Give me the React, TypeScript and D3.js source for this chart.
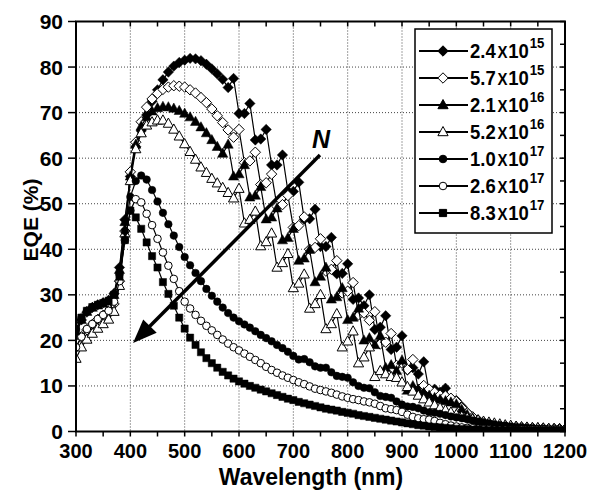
import { useEffect, useRef } from 'react'
import * as d3 from 'd3'

// wavelength grid (nm)
const WAVELENGTH = [
  300, 310, 320, 330, 340, 350, 360, 370, 380, 390,
  400, 410, 420, 430, 440, 450, 460, 470, 480, 490,
  500, 510, 520, 530, 540, 550, 560, 570, 580, 590,
  600, 610, 620, 630, 640, 650, 660, 670, 680, 690,
  700, 710, 720, 730, 740, 750, 760, 770, 780, 790,
  800, 810, 820, 830, 840, 850, 860, 870, 880, 890,
  900, 910, 920, 930, 940, 950, 960, 970, 980, 990,
  1000, 1010, 1020, 1030, 1040, 1050, 1060, 1070, 1080, 1090,
  1100, 1110, 1120, 1130, 1140, 1150, 1160, 1170, 1180, 1190,
  1200,
]

// EQE (%) per doping level
const EQE_2_4E15 = [
  21, 24.5, 26.2, 27.2, 27.8, 28.3, 28.8, 30.3, 36, 46.5,
  56, 62.5, 66, 69.5, 72.5, 75, 77.2, 78.9, 80.2, 81,
  81.5, 81.9, 81.8, 81.4, 80.6, 79.6, 78.5, 77.3, 75.5, 77.5,
  69.8, 69.8, 72, 64, 64.2, 66.3, 58.5, 58.5, 60.7, 52.8,
  52.7, 54.7, 46.6, 46.7, 48.8, 40.6, 40.6, 42.6, 34.6, 34.7,
  36.8, 29, 29.3, 27.6, 30, 22.4, 22.9, 25.4, 18, 18.5,
  21, 13.5, 14, 12.6, 15.3, 8.8, 9.3, 8.6, 9.5, 6.8,
  6.8, 5.5, 4.2, 3.2, 2.5, 2, 1.7, 1.5, 1.3, 1.2,
  1.1, 1.0, 0.9, 0.8, 0.8, 0.7, 0.7, 0.6, 0.6, 0.6,
  0.5,
]
const EQE_5_7E15 = [
  18.5, 20.8, 22.3, 23.5, 24.6, 25.5, 26.3, 28, 33, 44,
  57, 63.5, 68, 71.2, 73, 74.2, 75.1, 75.6, 75.9, 75.8,
  75.6, 75, 74.3, 73.3, 72.2, 70.8, 69.3, 67.8, 66.2, 64.6,
  66.3, 59, 59.4, 61.3, 54.2, 54.6, 56.5, 49.4, 49.8, 51.8,
  44.8, 45.2, 47.1, 40, 40.4, 42.3, 35.2, 35.6, 37.5, 30.4,
  30.8, 32.7, 25.6, 26, 24.4, 26.3, 19.2, 19.6, 21.5, 14.5,
  15, 13.6, 15.8, 9.1, 10.1, 9.3, 8.6, 8, 7.8, 7.3,
  6.6, 5.2, 4.1, 3.2, 2.5, 2, 1.7, 1.5, 1.3, 1.2,
  1.1, 1.0, 0.9, 0.8, 0.8, 0.7, 0.7, 0.6, 0.6, 0.6,
  0.5,
]
const EQE_2_1E16 = [
  21.5, 24.5, 26.3, 27.2, 27.7, 28.1, 28.6, 30, 35.5, 46,
  56, 63, 67, 69, 70.3, 71, 71.3, 71.2, 70.9, 70.4,
  69.8, 69, 68, 66.8, 65.5, 64, 62.5, 61, 63, 56,
  56.5, 58.5, 51.4, 51.8, 53.7, 46.6, 47, 49, 42, 42.5,
  44.5, 37.5, 38, 39.9, 32.8, 34, 36, 29, 29.5, 31.5,
  24.5, 25, 27, 20, 20.5, 19, 21, 14, 14.6, 13.3,
  15.6, 9, 10, 9.2, 8.5, 7.9, 7.4, 7, 6.7, 6.4,
  6, 4.8, 3.7, 2.9, 2.3, 1.9, 1.6, 1.4, 1.2, 1.1,
  1.0, 0.9, 0.8, 0.8, 0.7, 0.7, 0.6, 0.6, 0.5, 0.5,
  0.5,
]
const EQE_5_2E16 = [
  16, 18.5, 20.2, 21.5, 22.6, 23.6, 24.6, 26.3, 32, 43.5,
  55, 62, 65.5, 67.2, 67.9, 68.3, 68.3, 67.6, 66.3, 64.8,
  63.1, 61.4, 59.7, 58, 56.8, 55.5, 54.5, 53.5, 52.4, 51.2,
  53.3, 45.7, 46.5, 48.3, 40.7, 41.6, 43.5, 36, 37, 39,
  31.5, 32.5, 34.5, 27, 28, 30, 22.5, 23.6, 25.8, 18.5,
  19.8, 22, 15, 16.3, 18.5, 12, 13.3, 12.6, 12, 11.8,
  10.8, 9.8, 8.8, 7.9, 7.1, 6.4, 5.8, 5.2, 4.7, 4.2,
  3.7, 3.3, 3, 2.7, 2.5, 2.2, 2, 1.8, 1.6, 1.4,
  1.3, 1.1, 1.0, 0.9, 0.8, 0.8, 0.7, 0.6, 0.6, 0.5,
  0.5,
]
const EQE_1_0E17 = [
  22.5, 25, 26.5, 27.3, 27.8, 28.2, 28.7, 30, 34.5, 44,
  51.5, 55, 56.2, 55.3, 53, 50.5, 48, 45.5, 43, 40.5,
  38.3, 36.5, 34.8, 33, 31.3, 29.8, 28.5, 27.2, 26, 25,
  24.2, 23.5, 22.8, 22, 21.2, 20.5, 19.8, 19, 18.3, 17.5,
  16.6, 15.8, 15.9, 15.2, 14.3, 14, 14, 13, 12.2, 12,
  11.8, 10.8, 10, 9.6, 9.5, 8.6, 7.8, 7.6, 7.4, 6.6,
  5.9, 5.5, 5.4, 5.1, 4.6, 4.2, 4.1, 3.9, 3.6, 3.3,
  3.1, 2.9, 2.7, 2.4, 2.2, 2, 1.8, 1.6, 1.4, 1.3,
  1.1, 1.0, 0.9, 0.8, 0.7, 0.6, 0.6, 0.5, 0.5, 0.4,
  0.4,
]
const EQE_2_6E17 = [
  18.5, 20.8, 22.5, 23.6, 24.7, 25.6, 26.5, 28.5, 33, 42,
  48.5, 51, 50.3, 47.8, 45.3, 42.3, 39.3, 36.4, 33.5, 30.8,
  28.5, 27, 25.6, 24.3, 23.2, 22.2, 21.2, 20.2, 19.3, 18.5,
  17.8, 17.1, 16.4, 15.7, 15, 14.2, 13.5, 12.9, 12.3, 11.8,
  11.3, 10.8, 10.4, 9.9, 9.4, 9.1, 8.8, 8.5, 8.1, 7.7,
  7.4, 7.1, 6.9, 6.6, 6.4, 6.1, 5.6, 5.1, 4.9, 4.7,
  4.3, 3.7, 3.2, 2.9, 2.7, 2.6, 2.3, 1.9, 1.6, 1.3,
  1.1, 0.9, 0.8, 0.7, 0.6, 0.5, 0.5, 0.4, 0.4, 0.4,
  0.3, 0.3, 0.3, 0.3, 0.3, 0.3, 0.3, 0.3, 0.3, 0.3,
  0.3,
]
const EQE_8_3E17 = [
  22, 25, 26.5, 27.3, 27.8, 28.2, 28.7, 30, 34, 42,
  48.5, 47, 44.5, 41.5, 38.5, 36, 32.8, 30.2, 27.6, 25,
  22.6, 20.6, 19, 17.4, 16.1, 15, 14, 13.1, 12.3, 11.6,
  11, 10.5, 10, 9.6, 9.2, 8.8, 8.4, 8, 7.6, 7.2,
  6.9, 6.5, 6.2, 5.9, 5.6, 5.3, 5, 4.8, 4.6, 4.3,
  4.1, 3.9, 3.6, 3.4, 3.2, 3, 2.8, 2.6, 2.4, 2.2,
  2, 1.8, 1.6, 1.4, 1.3, 1.1, 1, 0.9, 0.8, 0.7,
  0.6, 0.5, 0.5, 0.4, 0.4, 0.3, 0.3, 0.3, 0.3, 0.3,
  0.3, 0.3, 0.2, 0.2, 0.2, 0.2, 0.2, 0.2, 0.2, 0.2,
  0.2,
]

const LEGEND_MANTISSA = ['2.4', '5.7', '2.1', '5.2', '1.0', '2.6', '8.3']
const LEGEND_EXPONENT = ['15', '15', '16', '16', '17', '17', '17']
const MARKER_SHAPE = ['diamond', 'diamond', 'triangle', 'triangle', 'circle', 'circle', 'square']
const MARKER_FILLED = [true, false, true, false, true, false, true]

const X_TICKS = [300, 400, 500, 600, 700, 800, 900, 1000, 1100, 1200]
const Y_TICKS = [0, 10, 20, 30, 40, 50, 60, 70, 80, 90]

// arrow annotation, in data units: [wavelength, EQE]
const ARROW_FROM = [749, 60.7]
const ARROW_TO = [405, 19.4]

const FONT = '"Liberation Sans", Arial, Helvetica, sans-serif'

function markerPath(shape: string) {
  if (shape === 'diamond') return 'M0,-5.2L5.2,0L0,5.2L-5.2,0Z'
  if (shape === 'triangle') return 'M0,-5.5L5.1,3.7L-5.1,3.7Z'
  if (shape === 'square') return 'M-3.6,-3.6h7.2v7.2h-7.2Z'
  const r = 3.8
  return `M${r},0A${r},${r} 0 1,1 ${-r},0A${r},${r} 0 1,1 ${r},0Z`
}

export default function App() {
  const svgRef = useRef<SVGSVGElement>(null)

  useEffect(() => {
    const W = 589
    const H = 490
    const left = 76, right = 565, top = 21.5, bottom = 431.5

    const svg = d3.select(svgRef.current).attr('width', W).attr('height', H)
    svg.selectAll('*').remove()
    svg.attr('font-family', FONT)

    const x = d3.scaleLinear().domain([300, 1200]).range([left, right])
    const y = d3.scaleLinear().domain([0, 90]).range([bottom, top])

    svg.append('rect').attr('width', W).attr('height', H).attr('fill', 'white')

    svg.append('defs').append('clipPath').attr('id', 'plot-clip')
      .append('rect').attr('x', left).attr('y', top).attr('width', right - left).attr('height', bottom - top)

    // grid
    const grid = svg.append('g').attr('stroke', '#444').attr('stroke-width', 1).attr('stroke-dasharray', '1,2')
    X_TICKS.slice(1, -1).forEach(v => {
      grid.append('line').attr('x1', x(v)).attr('x2', x(v)).attr('y1', top).attr('y2', bottom)
    })
    Y_TICKS.slice(1, -1).forEach(v => {
      grid.append('line').attr('x1', left).attr('x2', right).attr('y1', y(v)).attr('y2', y(v))
    })

    // data
    const series = [EQE_2_4E15, EQE_5_7E15, EQE_2_1E16, EQE_5_2E16, EQE_1_0E17, EQE_2_6E17, EQE_8_3E17]
    const plot = svg.append('g').attr('clip-path', 'url(#plot-clip)')
    const line = d3.line<number>().x((_, i) => x(WAVELENGTH[i])).y(d => y(d))
    series.forEach((vals, s) => {
      const g = plot.append('g')
      g.append('path').attr('d', line(vals)).attr('fill', 'none').attr('stroke', 'black').attr('stroke-width', 1.2)
      g.selectAll('path.m').data(vals).join('path')
        .attr('class', 'm')
        .attr('d', markerPath(MARKER_SHAPE[s]))
        .attr('transform', (d, i) => `translate(${x(WAVELENGTH[i])},${y(d)})`)
        .attr('fill', MARKER_FILLED[s] ? 'black' : 'white')
        .attr('stroke', 'black')
        .attr('stroke-width', MARKER_FILLED[s] ? 0.5 : 1)
    })

    // frame
    svg.append('rect').attr('x', left).attr('y', top).attr('width', right - left).attr('height', bottom - top)
      .attr('fill', 'none').attr('stroke', 'black').attr('stroke-width', 2)

    // ticks
    const ticks = svg.append('g').attr('stroke', 'black').attr('stroke-width', 1.5)
    d3.range(300, 1201, 50).forEach(v => {
      ticks.append('line').attr('x1', x(v)).attr('x2', x(v)).attr('y1', bottom).attr('y2', bottom + 5)
      ticks.append('line').attr('x1', x(v)).attr('x2', x(v)).attr('y1', top).attr('y2', top + 5)
    })
    Y_TICKS.forEach(v => {
      ticks.append('line').attr('x1', left - 8).attr('x2', left).attr('y1', y(v)).attr('y2', y(v))
    })
    d3.range(0, 91, 5).forEach(v => {
      ticks.append('line').attr('x1', right - 5).attr('x2', right).attr('y1', y(v)).attr('y2', y(v))
    })

    // tick labels
    X_TICKS.forEach(v => {
      svg.append('text').attr('x', x(v)).attr('y', 458).attr('text-anchor', 'middle')
        .attr('font-size', 20).attr('font-weight', 'bold').text(v)
    })
    Y_TICKS.forEach(v => {
      svg.append('text').attr('x', 63).attr('y', y(v) + 7.5).attr('text-anchor', 'end')
        .attr('font-size', 21).attr('font-weight', 'bold').text(v)
    })

    // axis titles
    svg.append('text').attr('x', 311).attr('y', 485).attr('text-anchor', 'middle')
      .attr('font-size', 23).attr('font-weight', 'bold').text('Wavelength (nm)')
    svg.append('text').attr('transform', 'translate(38,220) rotate(-90)').attr('text-anchor', 'middle')
      .attr('font-size', 21).attr('font-weight', 'bold').text('EQE (%)')

    // arrow N
    const x0 = x(ARROW_FROM[0]), y0 = y(ARROW_FROM[1])
    const x1 = x(ARROW_TO[0]), y1 = y(ARROW_TO[1])
    const len = Math.hypot(x1 - x0, y1 - y0)
    const ux = (x1 - x0) / len, uy = (y1 - y0) / len
    const headL = 24, headW = 9.5
    const bx = x1 - ux * headL, by = y1 - uy * headL
    svg.append('line').attr('x1', x0).attr('y1', y0).attr('x2', bx + ux * 2).attr('y2', by + uy * 2)
      .attr('stroke', 'black').attr('stroke-width', 3.5)
    svg.append('path')
      .attr('d', `M${x1},${y1}L${bx - uy * headW},${by + ux * headW}L${bx + uy * headW},${by - ux * headW}Z`)
      .attr('fill', 'black')
    svg.append('text').attr('x', x0 + 1).attr('y', y0 - 7).attr('text-anchor', 'middle')
      .attr('font-size', 25).attr('font-weight', 'bold').attr('font-style', 'italic').text('N')

    // legend
    const lg = svg.append('g')
    lg.append('rect').attr('x', 415).attr('y', 29).attr('width', 137).attr('height', 204)
      .attr('fill', 'white').attr('stroke', 'black').attr('stroke-width', 1.5)
    LEGEND_MANTISSA.forEach((m, i) => {
      const cy = 51 + i * 27
      lg.append('line').attr('x1', 419).attr('x2', 468).attr('y1', cy).attr('y2', cy)
        .attr('stroke', 'black').attr('stroke-width', 2)
      lg.append('path').attr('d', markerPath(MARKER_SHAPE[i]))
        .attr('transform', `translate(443,${cy})`)
        .attr('fill', MARKER_FILLED[i] ? 'black' : 'white')
        .attr('stroke', 'black').attr('stroke-width', 1)
      const t = lg.append('text').attr('transform', `translate(470,${cy + 7}) scale(0.88,1)`)
        .attr('font-size', 21).attr('font-weight', 'bold')
      t.append('tspan').text(m)
      t.append('tspan').attr('font-size', 17).attr('dx', 2).text('X')
      t.append('tspan').attr('dx', 1).text('10')
      t.append('tspan').attr('font-size', 15).attr('dx', 1).attr('dy', -10).text(LEGEND_EXPONENT[i])
    })
  }, [])

  return (
    <div style={{ position: 'absolute', left: 0, top: 0, width: 589, height: 490 }}>
      <svg ref={svgRef} />
    </div>
  )
}
